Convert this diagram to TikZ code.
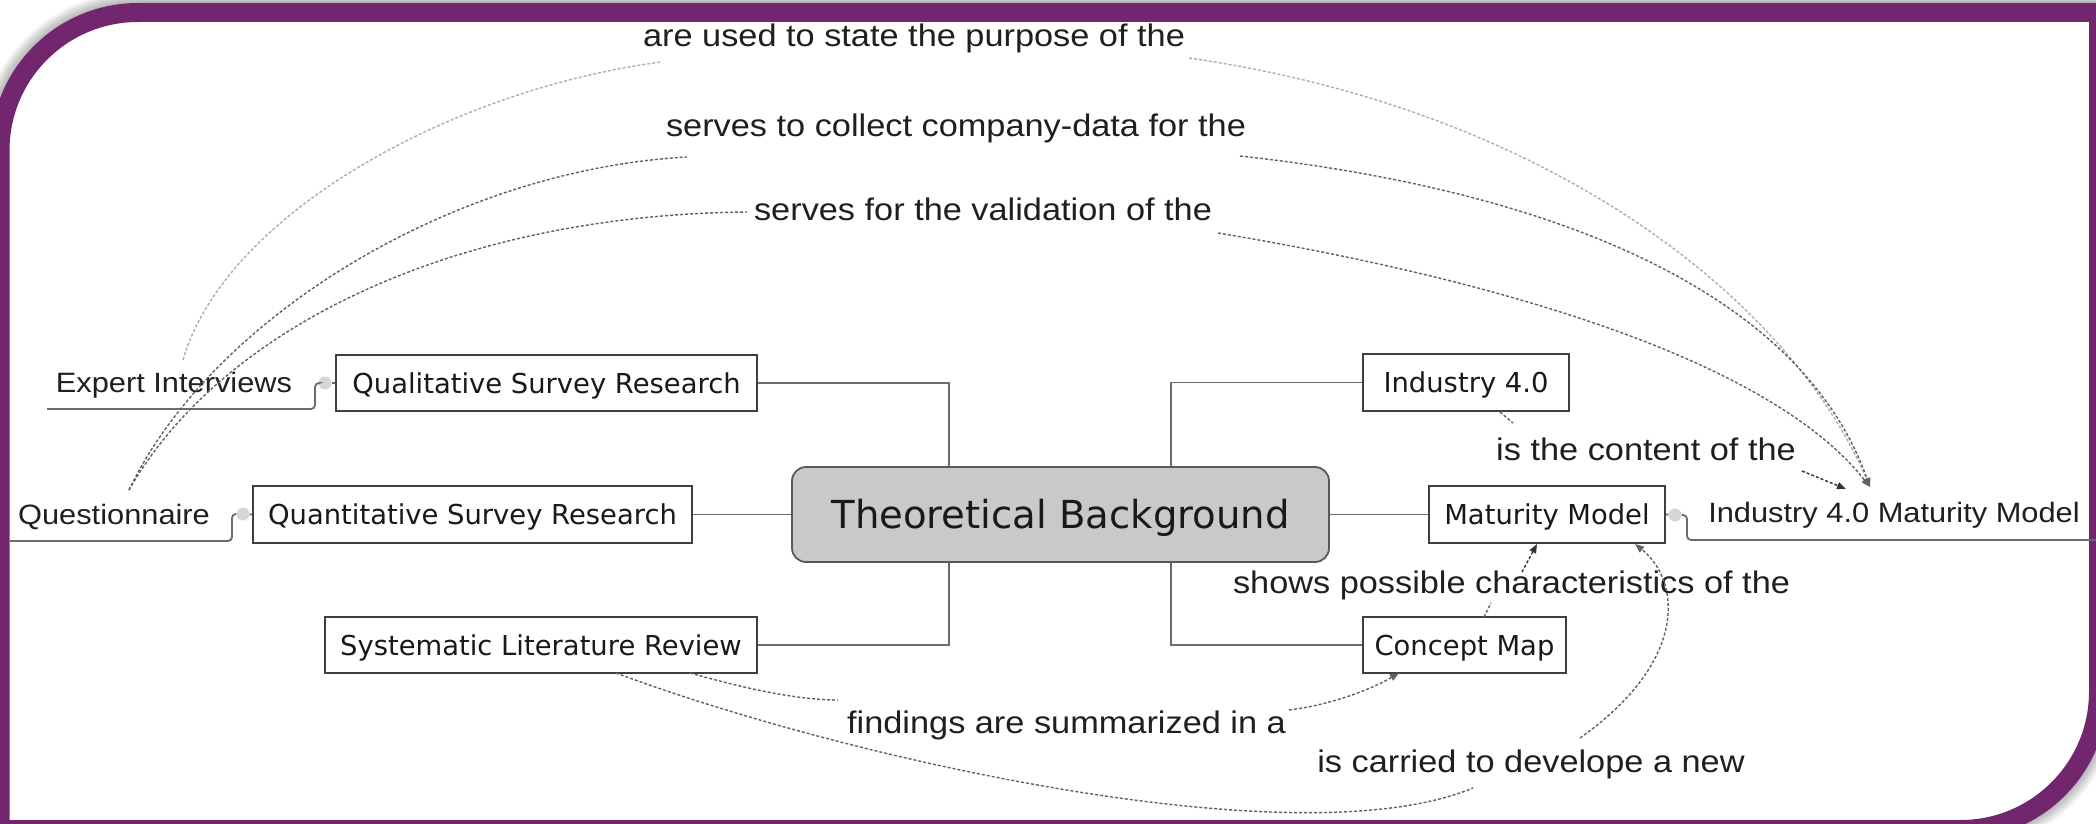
\documentclass[tikz,border=0pt]{standalone}
\usepackage{fontspec}
\setmainfont{Liberation Sans}
\newfontfamily\boxfont{DejaVu Sans}
\newfontfamily\labfont{Liberation Sans}[FakeStretch=1.1]
\usetikzlibrary{arrows.meta}
\definecolor{frameC}{RGB}{114,38,110}
\definecolor{tbfill}{RGB}{201,201,201}
\tikzset{
  box/.style={draw=black!75, line width=1.8pt, fill=white, inner sep=0pt,
    font=\boxfont\fontsize{27.4}{30}\selectfont, text=black!90,
    text height=20pt, text depth=0pt},
  tree/.style={draw=black!58, line width=1.8pt},
  lab/.style={font=\labfont\fontsize{31.2}{34}\selectfont, inner sep=0pt, anchor=base, text=black!88},
  leaf/.style={font=\labfont\fontsize{28}{30}\selectfont, inner sep=0pt, anchor=base, text=black!88},
  link/.style={draw=black!62, dash pattern=on 3pt off 2pt, line width=1.4pt},
  linklight/.style={link, draw=black!32},
  knob/.style={circle, fill=black!16, minimum size=13pt, inner sep=0pt},
  tipA/.style={-{Triangle[length=9pt,width=7pt]}},
  frameline/.style={line width=19pt, line join=miter},
}
\begin{document}
\begin{tikzpicture}[x=1pt,y=-1pt]
\useasboundingbox (0,0) rectangle (2096,824);
\clip (0,0) rectangle (2096,824);
\fill[white] (0,0) rectangle (2096,824);
% shadow
\foreach \k in {1,...,12}{
  \draw[black, opacity=0.022, line width=19pt+2*\k pt]
    (0,829.5) -- (0,150.5) .. controls (0,74.3) and (61.8,12.5) .. (138,12.5)
    -- (2098.5,12.5) -- (2098.5,691.5) .. controls (2098.5,767.7) and (2036.7,829.5) .. (1960.5,829.5) -- cycle;
}
\fill[white] (0,829.5) -- (0,150.5) .. controls (0,74.3) and (61.8,12.5) .. (138,12.5)
    -- (2098.5,12.5) -- (2098.5,691.5) .. controls (2098.5,767.7) and (2036.7,829.5) .. (1960.5,829.5) -- cycle;
\draw[frameC, frameline] (0,829.5) -- (0,150.5) .. controls (0,74.3) and (61.8,12.5) .. (138,12.5)
    -- (2098.5,12.5) -- (2098.5,691.5) .. controls (2098.5,767.7) and (2036.7,829.5) .. (1960.5,829.5) -- cycle;

% central node and boxes
\node[box, draw=black!65, fill=tbfill, rounded corners=14pt, minimum width=537pt, minimum height=95pt,
  font=\boxfont\fontsize{38.6}{40}\selectfont, text height=28.1pt] (TB) at (1060.5,514.5) {Theoretical Background};
\node[box, minimum width=421pt, minimum height=56pt] (QSR) at (546.5,383) {Qualitative Survey Research};
\node[box, minimum width=439pt, minimum height=57pt] (QNSR) at (472.5,514.5) {Quantitative Survey Research};
\node[box, minimum width=432pt, minimum height=56pt] (SLR) at (541,645) {Systematic Literature Review};
\node[box, minimum width=206pt, minimum height=57pt] (I40) at (1466,382.5) {Industry 4.0};
\node[box, minimum width=236pt, minimum height=57pt] (MM) at (1547,514.5) {Maturity Model};
\node[box, minimum width=203pt, minimum height=56pt] (CM) at (1464.5,645) {Concept Map};

% tree connectors
\coordinate (jL) at (949,0);
\coordinate (jR) at (1171,0);
\draw[tree] (QSR.east) -| (jL |- TB.north);
\draw[tree] (QNSR.east) -- (TB.west);
\draw[tree] (SLR.east) -| (jL |- TB.south);
\draw[tree] (I40.west) -| (jR |- TB.north);
\draw[tree] (TB.east) -- (MM.west);
\draw[tree] (CM.west) -| (jR |- TB.south);

% leaves
\node[leaf] (EI) at (174,392) {Expert Interviews};
\node[leaf] (QN) at (114,524) {Questionnaire};
\node[leaf] (IMM) at (1894,522) {Industry 4.0 Maturity Model};
\node[knob] (kEI) at (325,383) {};
\node[knob] (kQN) at (243,514) {};
\node[knob] (kIMM) at (1675,515) {};
\coordinate (uEI) at (47,409);
\coordinate (uQN) at (10,541);
\coordinate (uIMM) at (2100,540);
\draw[tree] (kEI) -- (QSR.west);
\draw[tree] (kQN) -- (QNSR.west);
\draw[tree] (MM.east) -- (kIMM);
\draw[tree, rounded corners=4pt] (uEI) -- (315,409) -- (315,383) -- (kEI.west);
\draw[tree, rounded corners=4pt] (uQN) -- (232,541) -- (232,514) -- (kQN.west);
\draw[tree, rounded corners=4pt] (kIMM.east) -- (1687,515) -- (1687,540) -- (uIMM);

% link labels
\node[lab] (L1) at (914,47) {are used to state the purpose of the};
\node[lab] (L2) at (956,137) {serves to collect company-data for the};
\node[lab] (L3) at (983,220) {serves for the validation of the};
\node[lab] (L4) at (1646,460) {is the content of the};
\node[lab] (L5) at (1511.5,593) {shows possible characteristics of the};
\node[lab] (L6) at (1066.5,733) {findings are summarized in a};
\node[lab] (L7) at (1531,772) {is carried to develope a new};

% link connectors
\coordinate (a1) at (183,360);
\coordinate (a2) at (661,62);
\coordinate (a3) at (1189,58);
\coordinate (tip) at (1870,487);
\coordinate (b1) at (129,490);
\coordinate (b2) at (687,157);
\coordinate (b3) at (1240,156);
\coordinate (c2) at (747,212);
\coordinate (c3) at (1218,233);
\coordinate (d1) at (1500,412);
\coordinate (d2) at (1513,423);
\coordinate (d3) at (1802,471);
\coordinate (d4) at (1846,489);
\coordinate (e1) at (1484,617);
\coordinate (e2) at (1491,603);
\coordinate (e3) at (1522,572);
\coordinate (e4) at (1537,544);
\coordinate (f1) at (690,673);
\coordinate (f2) at (838,700);
\coordinate (f3) at (1289,710);
\coordinate (f4) at (1399,673);
\coordinate (g1) at (616,673);
\coordinate (g2) at (1473,788);
\coordinate (g3) at (1580,738);
\coordinate (g4) at (1635,544);

\draw[linklight] (a1) .. controls (225,215) and (450,90) .. (a2);
\draw[linklight, tipA] (a3) .. controls (1550,110) and (1790,300) .. (tip);
\draw[link] (b1) .. controls (210,320) and (450,170) .. (b2);
\draw[link, tipA] (b3) .. controls (1550,190) and (1800,290) .. (tip);
\draw[link] (b1) .. controls (220,330) and (450,215) .. (c2);
\draw[link, tipA] (c3) .. controls (1500,280) and (1770,360) .. (tip);
\draw[link] (d1) -- (d2);
\draw[link, draw=black!80, tipA] (d3) -- (d4);
\draw[link] (e1) -- (e2);
\draw[link, draw=black!80, tipA] (e3) -- (e4);
\draw[link] (f1) .. controls (750,690) and (800,700) .. (f2);
\draw[link, tipA] (f3) .. controls (1330,705) and (1370,690) .. (f4);
\draw[link] (g1) .. controls (850,760) and (1300,860) .. (g2);
\draw[link, tipA] (g3) .. controls (1690,660) and (1680,580) .. (g4);
\end{tikzpicture}
\end{document}
